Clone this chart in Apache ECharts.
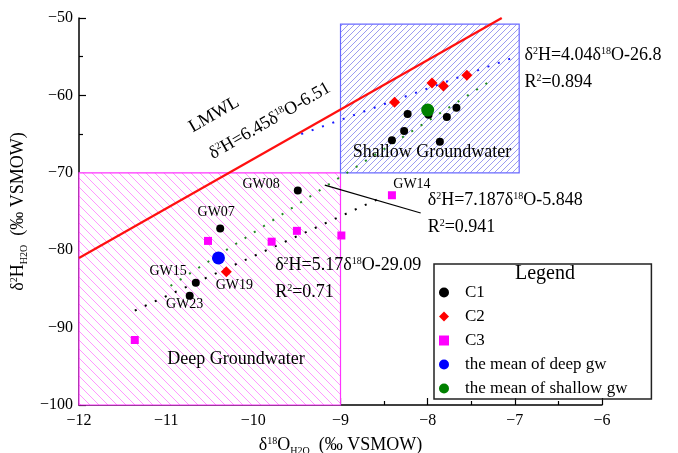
<!DOCTYPE html>
<html>
<head>
<meta charset="utf-8">
<script src="https://cdn.jsdelivr.net/npm/echarts@6/dist/echarts.min.js"></script>
<style>
html, body { margin: 0; padding: 0; background: #fff; }
#main { width: 678px; height: 453px; }
</style>
</head>
<body>
<div id="main"></div>
<script>
// sample points [δ18O, δ2H]
var c1 = [[-8.23, -62.4], [-7.99, -62.5], [-7.67, -61.6], [-7.78, -62.8], [-8.27, -64.6],
          [-8.41, -65.8], [-7.86, -66.0], [-9.49, -72.3], [-10.38, -77.2], [-10.66, -84.2], [-10.73, -85.9]];
var c1Names = ['', '', '', '', '', '', '', 'GW08', 'GW07', 'GW15', 'GW23'];
var c2 = [[-8.38, -60.9], [-7.95, -58.4], [-7.82, -58.8], [-7.55, -57.4], [-10.31, -82.8]];
var c2Names = ['', '', '', '', 'GW19'];
var c3 = [[-10.52, -78.8], [-9.79, -78.9], [-9.50, -77.5], [-8.99, -78.1], [-11.36, -91.6], [-8.41, -72.9]];
var c3Names = ['', '', '', '', '', 'GW14'];
var meanDeep = [[-10.40, -81.0]];
var meanShallow = [[-8.00, -61.9]];

// fitted lines (end points)
var lmwl = [[-12, -81.0], [-7.15, -50]];
var shallowFit = [[-9.45, -65.0], [-7.04, -55.2]];
var allFit = [[-10.95, -84.6], [-7.29, -58.2]];
var deepFit = [[-11.36, -87.8], [-8.55, -73.3]];
var arrow = [[-9.18, -71.6], [-8.08, -75.2]];

// zones [x0, y0, x1, y1]
var zones = [[-12, -100, -9, -70], [-9, -70, -6.95, -50.8]];

var legendNames = ['C1', 'C2', 'C3', 'the mean of deep gw', 'the mean of shallow gw'];

// label placement for sample names
var labelPos = {
    GW08: { position: 'left', distance: 14, offset: [0, -6] },
    GW07: { position: 'top', distance: 5, offset: [-4, 0] },
    GW15: { position: 'left', distance: 5, offset: [0, -11] },
    GW19: { position: 'bottom', distance: 1, offset: [8, 0] },
    GW23: { position: 'bottom', distance: 0, offset: [-5, -3] },
    GW14: { position: 'top', distance: 0, offset: [20, 0] }
};

var FONT = 'Liberation Serif';

// diagonal hatch tile (bigger tile holding several lines)
function hatch(color, step, dir) {
    var size = step * 6;
    var c = document.createElement('canvas');
    c.width = c.height = size;
    var g = c.getContext('2d');
    g.fillStyle = '#ffffff';
    g.fillRect(0, 0, size, size);
    g.fillStyle = color;
    for (var x = 0; x < size; x++) {
        for (var y = 0; y < size; y++) {
            var k = dir > 0 ? (x + y) % step : ((x - y) % step + step) % step;
            if (k === 0) g.fillRect(x, y, 1, 1);
        }
    }
    return { image: c, repeat: 'repeat' };
}

var zoneStyles = [
    { fill: hatch('#ff99ff', 9, -1), stroke: '#ff33ff', lineWidth: 1.2 },
    { fill: hatch('#9c9cf0', 6, 1), stroke: '#6a6aff', lineWidth: 1.2 }
];

function withLabels(points, names) {
    return points.map(function (p, i) {
        var n = names[i];
        if (!n) return p;
        var lp = labelPos[n];
        return {
            value: p,
            label: {
                show: true, formatter: n, position: lp.position, distance: lp.distance, offset: lp.offset,
                color: '#000', fontFamily: FONT, fontSize: 14
            }
        };
    });
}

function minus(v) { return String(v).replace('-', '\u2212'); }

var rich = {
    n: { fontFamily: FONT, fontSize: 18, color: '#000', lineHeight: 22 },
    sup: { fontFamily: FONT, fontSize: 10, color: '#000', lineHeight: 22, verticalAlign: 'top', padding: [2, 0, 0, 0] },
    sub: { fontFamily: FONT, fontSize: 10, color: '#000', lineHeight: 22, verticalAlign: 'bottom' }
};

var chart = echarts.init(document.getElementById('main'));

var option = {
    animation: false,
    backgroundColor: '#fff',
    grid: { left: 79, right: 76, top: 18, bottom: 48, outerBoundsMode: 'none', containLabel: false },
    xAxis: {
        type: 'value', min: -12, max: -6, interval: 1,
        name: '{n|δ}{sup|18}{n|O}{sub|H2O}{n|  (‰ VSMOW)}',
        nameLocation: 'middle', nameGap: 25,
        nameTextStyle: { rich: rich },
        axisLine: { onZero: false, lineStyle: { color: '#000', width: 1.5 } },
        axisTick: { inside: true, length: 7, lineStyle: { color: '#000', width: 1.2 } },
        minorTick: { show: true, splitNumber: 2, length: 4, lineStyle: { color: '#000', width: 1.2 } },
        axisLabel: { color: '#000', fontFamily: FONT, fontSize: 16, margin: 8, formatter: minus },
        splitLine: { show: false }
    },
    yAxis: {
        type: 'value', min: -100, max: -50, interval: 10,
        name: '{n|δ}{sup|2}{n|H}{sub|H2O}{n|  (‰ VSMOW)}',
        nameLocation: 'middle', nameGap: 44, nameRotate: 90,
        nameTextStyle: { rich: rich },
        axisLine: { onZero: false, lineStyle: { color: '#000', width: 1.5 } },
        axisTick: { inside: true, length: 7, lineStyle: { color: '#000', width: 1.2 } },
        minorTick: { show: true, splitNumber: 2, length: 4, lineStyle: { color: '#000', width: 1.2 } },
        axisLabel: { color: '#000', fontFamily: FONT, fontSize: 16, margin: 6, formatter: minus },
        splitLine: { show: false }
    },
    legend: {
        orient: 'vertical', left: 434, top: 264,
        data: legendNames,
        itemWidth: 10, itemHeight: 10, itemGap: 7,
        padding: [20, 24, 2, 5],
        borderColor: '#222', borderWidth: 1.5,
        textStyle: { color: '#000', fontFamily: FONT, fontSize: 17, padding: [0, 0, 0, 11] }
    },
    series: [
        {
            type: 'custom', z: 1, silent: true, data: zones,
            encode: { x: [0, 2], y: [1, 3] },
            renderItem: function (params, api) {
                var p0 = api.coord([api.value(0), api.value(1)]);
                var p1 = api.coord([api.value(2), api.value(3)]);
                var s = zoneStyles[params.dataIndex];
                return {
                    type: 'rect',
                    shape: { x: p0[0], y: p1[1], width: p1[0] - p0[0], height: p0[1] - p1[1] },
                    style: { fill: s.fill, stroke: s.stroke, lineWidth: s.lineWidth }
                };
            }
        },
        { type: 'line', z: 2, silent: true, data: lmwl, symbol: 'none',
          lineStyle: { color: '#ff1010', width: 2.2 } },
        { type: 'line', z: 2, silent: true, data: shallowFit, symbol: 'none',
          lineStyle: { color: '#1a1aff', width: 2, type: [2, 9] } },
        { type: 'line', z: 2, silent: true, data: allFit, symbol: 'none',
          lineStyle: { color: '#1f8a1f', width: 2, type: [2, 9] } },
        { type: 'line', z: 2, silent: true, data: deepFit, symbol: 'none',
          lineStyle: { color: '#000', width: 2, type: [2, 9] },
          markLine: {
              silent: true, symbol: ['none', 'arrow'], symbolSize: [0, 9],
              label: { show: false },
              lineStyle: { color: '#000', width: 1.2, type: 'solid' },
              data: [[{ coord: arrow[0] }, { coord: arrow[1] }]]
          }
        },
        { name: 'C3', type: 'scatter', z: 3, symbol: 'rect', symbolSize: 8,
          itemStyle: { color: '#ff00ff', opacity: 1 }, data: withLabels(c3, c3Names) },
        { name: 'C1', type: 'scatter', z: 3, symbol: 'circle', symbolSize: 8,
          itemStyle: { color: '#000', opacity: 1 }, data: withLabels(c1, c1Names) },
        { name: 'C2', type: 'scatter', z: 3, symbol: 'diamond', symbolSize: 11,
          itemStyle: { color: '#ff0000', opacity: 1 }, data: withLabels(c2, c2Names) },
        { name: 'the mean of deep gw', type: 'scatter', z: 4, symbol: 'circle', symbolSize: 13,
          itemStyle: { color: '#0000ff', opacity: 1 }, data: meanDeep },
        { name: 'the mean of shallow gw', type: 'scatter', z: 4, symbol: 'circle', symbolSize: 13,
          itemStyle: { color: '#008000', opacity: 1 }, data: meanShallow }
    ]
};
chart.setOption(option);

// text annotations placed at data coordinates
var notes = [
    { at: [-10.45, -62.5], text: '{n|LMWL}', align: 'center', rot: 30 },
    { at: [-9.81, -63.3], text: '{n|δ}{sup|2}{n|H=6.45δ}{sup|18}{n|O-6.51}', align: 'center', rot: 30 },
    { at: [-6.89, -54.8], text: '{n|δ}{sup|2}{n|H=4.04δ}{sup|18}{n|O-26.8}', align: 'left' },
    { at: [-6.89, -58.3], text: '{n|R}{sup|2}{n|=0.894}', align: 'left' },
    { at: [-7.95, -67.4], text: '{n|Shallow Groundwater}', align: 'center' },
    { at: [-8.00, -73.5], text: '{n|δ}{sup|2}{n|H=7.187δ}{sup|18}{n|O-5.848}', align: 'left' },
    { at: [-8.00, -77.0], text: '{n|R}{sup|2}{n|=0.941}', align: 'left' },
    { at: [-9.75, -81.9], text: '{n|δ}{sup|2}{n|H=5.17δ}{sup|18}{n|O-29.09}', align: 'left' },
    { at: [-9.75, -85.4], text: '{n|R}{sup|2}{n|=0.71}', align: 'left' },
    { at: [-10.20, -94.1], text: '{n|Deep Groundwater}', align: 'center' }
];

var graphics = notes.map(function (t) {
    var p = chart.convertToPixel({ xAxisIndex: 0, yAxisIndex: 0 }, t.at);
    return {
        type: 'text', x: p[0], y: p[1], z: 10, silent: true,
        rotation: (t.rot || 0) * Math.PI / 180,
        style: { text: t.text, rich: rich, align: t.align, verticalAlign: 'middle' }
    };
});
graphics.push({
    type: 'text', x: 545, y: 274, z: 10, silent: true,
    style: { text: 'Legend', fill: '#000', font: '20px "' + FONT + '"', align: 'center', verticalAlign: 'middle' }
});
chart.setOption({ graphic: graphics });
</script>
</body>
</html>
